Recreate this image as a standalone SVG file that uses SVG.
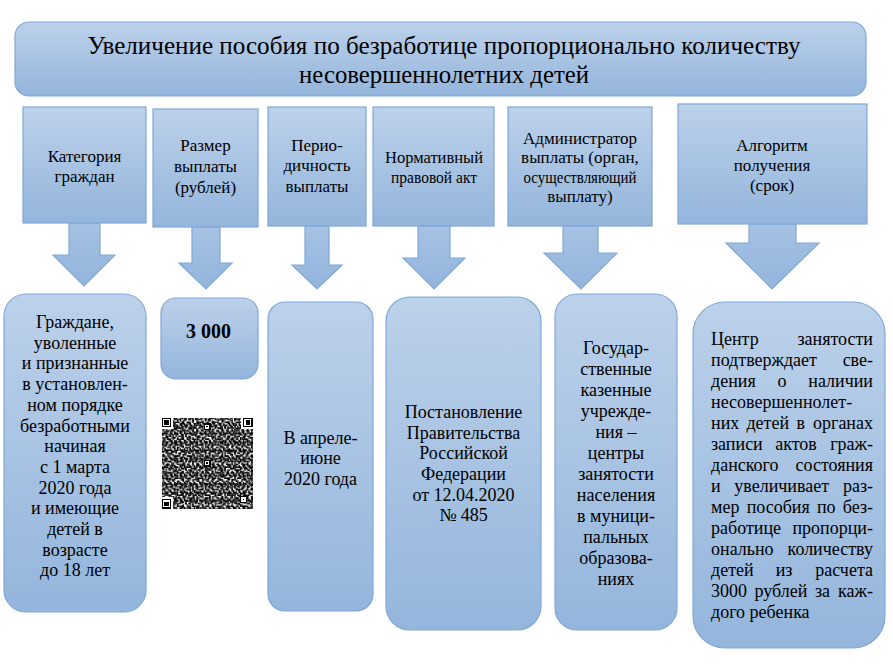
<svg xmlns="http://www.w3.org/2000/svg" xmlns:xlink="http://www.w3.org/1999/xlink" width="893" height="665" viewBox="0 0 893 665" font-family="'Liberation Serif', 'Times New Roman', serif">
<style>
.box{fill:url(#g);stroke:#80a7d6;stroke-width:1.2}
.arr{fill:url(#ga);stroke:#80a7d6;stroke-width:1.2}
text{font-family:"Liberation Serif","Times New Roman",serif;fill:#000}
.ht{font-size:25px;text-anchor:middle}
.t{font-size:17px;text-anchor:middle}
.b{font-size:18px;text-anchor:middle}
.j{font-size:18px}
.e{text-anchor:end}
.m{text-anchor:middle}
.qr{shape-rendering:crispEdges}
</style>
<defs>
<linearGradient id="g" x1="0" y1="0" x2="0" y2="1">
<stop offset="0" stop-color="#bcd1ea"/>
<stop offset="1" stop-color="#94b5dc"/>
</linearGradient>
<linearGradient id="ga" x1="0" y1="0" x2="0" y2="1">
<stop offset="0" stop-color="#a6c2e4"/>
<stop offset="1" stop-color="#93b4dc"/>
</linearGradient>
<pattern id="qa" patternUnits="userSpaceOnUse" x="161.5" y="417.5" width="9.8" height="8.4">
<rect x="0" y="0" width="2.8" height="1.4"/>
<rect x="4.2" y="0" width="1.4" height="2.8"/>
<rect x="7" y="1.4" width="2.8" height="1.4"/>
<rect x="1.4" y="2.8" width="1.4" height="2.8"/>
<rect x="5.6" y="4.2" width="2.8" height="1.4"/>
<rect x="0" y="7" width="1.4" height="1.4"/>
<rect x="2.8" y="5.6" width="1.4" height="2.8"/>
<rect x="8.4" y="5.6" width="1.4" height="2.8"/>
<rect x="4.2" y="7" width="2.8" height="1.4"/>
</pattern>
<pattern id="qb" patternUnits="userSpaceOnUse" x="161.5" y="417.5" width="12.6" height="11.2">
<rect x="1.4" y="0" width="1.4" height="1.4"/>
<rect x="5.6" y="1.4" width="1.4" height="2.8"/>
<rect x="9.8" y="0" width="1.4" height="4.2"/>
<rect x="0" y="4.2" width="4.2" height="1.4"/>
<rect x="7" y="5.6" width="2.8" height="1.4"/>
<rect x="2.8" y="8.4" width="1.4" height="2.8"/>
<rect x="11.2" y="7" width="1.4" height="1.4"/>
<rect x="5.6" y="9.8" width="4.2" height="1.4"/>
<rect x="0" y="8.4" width="1.4" height="1.4"/>
</pattern>
<pattern id="qc" patternUnits="userSpaceOnUse" x="161.5" y="417.5" width="15.4" height="14">
<rect x="2.8" y="0" width="2.8" height="1.4"/>
<rect x="0" y="1.4" width="1.4" height="2.8"/>
<rect x="8.4" y="1.4" width="1.4" height="1.4"/>
<rect x="12.6" y="0" width="1.4" height="2.8"/>
<rect x="4.2" y="4.2" width="2.8" height="2.8"/>
<rect x="9.8" y="5.6" width="4.2" height="1.4"/>
<rect x="1.4" y="8.4" width="1.4" height="2.8"/>
<rect x="7" y="8.4" width="2.8" height="1.4"/>
<rect x="12.6" y="9.8" width="2.8" height="2.8"/>
<rect x="4.2" y="11.2" width="1.4" height="2.8"/>
<rect x="8.4" y="12.6" width="2.8" height="1.4"/>
<rect x="0" y="12.6" width="1.4" height="1.4"/>
</pattern>
<g id="finder">
<rect x="-1.4" y="-1.4" width="12.6" height="12.6" fill="#fff"/>
<rect x="0" y="0" width="9.8" height="9.8" fill="#000"/>
<rect x="1.4" y="1.4" width="7" height="7" fill="#fff"/>
<rect x="2.8" y="2.8" width="4.2" height="4.2" fill="#000"/>
</g>
<g id="align">
<rect x="0" y="0" width="7" height="7" fill="#000"/>
<rect x="1.4" y="1.4" width="4.2" height="4.2" fill="#fff"/>
<rect x="2.8" y="2.8" width="1.4" height="1.4" fill="#000"/>
</g>
</defs>
<rect width="893" height="665" fill="#fff"/>

<g id="connectors">
<polygon class="arr" points="69,223 100,223 100,255 115,255 84,286 53,255 69,255"/>
<polygon class="arr" points="192,227 220,227 220,263 232,263 206,289 179,263 192,263"/>
<polygon class="arr" points="305,226 329,226 329,265 342,265 317,289 292,265 305,265"/>
<polygon class="arr" points="418,226 450,226 450,258 465,258 434,289 403,258 418,258"/>
<polygon class="arr" points="563,226 598,226 598,253 617,253 581,289 544,253 563,253"/>
<polygon class="arr" points="749,224 796,224 796,243 819,243 772,289 726,243 749,243"/>
</g>

<g id="title">
<rect class="box" x="15" y="22" width="851" height="74" rx="14"/>
<text class="ht" x="444" y="54" textLength="713" lengthAdjust="spacingAndGlyphs">Увеличение пособия по безработице пропорционально количеству</text>
<text class="ht" x="444" y="83" textLength="290" lengthAdjust="spacingAndGlyphs">несовершеннолетних детей</text>
</g>

<g id="cat">
<rect class="box" x="23" y="107" width="123" height="116"/>
<text class="t" x="84.5" y="162">Категория</text>
<text class="t" x="84.5" y="182">граждан</text>
</g>
<g id="size">
<rect class="box" x="153" y="109" width="105" height="118"/>
<text class="t" x="205.5" y="151">Размер</text>
<text class="t" x="205.5" y="172">выплаты</text>
<text class="t" x="205.5" y="193">(рублей)</text>
</g>
<g id="period">
<rect class="box" x="268" y="107" width="98" height="119"/>
<text class="t" x="317" y="151">Перио-</text>
<text class="t" x="317" y="171">дичность</text>
<text class="t" x="317" y="192">выплаты</text>
</g>
<g id="norm">
<rect class="box" x="373" y="107" width="121" height="119"/>
<text class="t" x="434" y="163" textLength="98" lengthAdjust="spacingAndGlyphs">Нормативный</text>
<text class="t" x="434" y="183" textLength="86" lengthAdjust="spacingAndGlyphs">правовой акт</text>
</g>
<g id="admin">
<rect class="box" x="508" y="107" width="144" height="119"/>
<text class="t" x="580" y="144">Администратор</text>
<text class="t" x="580" y="163">выплаты (орган,</text>
<text class="t" x="580" y="183" textLength="113" lengthAdjust="spacingAndGlyphs">осуществляющий</text>
<text class="t" x="580" y="202">выплату)</text>
</g>
<g id="algo">
<rect class="box" x="678" y="104" width="189" height="120"/>
<text class="t" x="772" y="151">Алгоритм</text>
<text class="t" x="772" y="171">получения</text>
<text class="t" x="772" y="191">(срок)</text>
</g>

<g id="citizens">
<rect class="box" x="4" y="294" width="142" height="318" rx="22"/>
<text class="b" x="75" y="328">Граждане,</text>
<text class="b" x="75" y="348.7">уволенные</text>
<text class="b" x="75" y="369.4">и признанные</text>
<text class="b" x="75" y="390.1">в установлен-</text>
<text class="b" x="75" y="410.8">ном порядке</text>
<text class="b" x="75" y="431.5">безработными</text>
<text class="b" x="75" y="452.2">начиная</text>
<text class="b" x="75" y="472.9">с 1 марта</text>
<text class="b" x="75" y="493.6">2020 года</text>
<text class="b" x="75" y="514.3">и имеющие</text>
<text class="b" x="75" y="535">детей в</text>
<text class="b" x="75" y="555.7">возрасте</text>
<text class="b" x="75" y="576.4">до 18 лет</text>
</g>
<g id="amount">
<rect class="box" x="161" y="298" width="97" height="81" rx="15"/>
<text x="208.5" y="338" style="font-size:20px;font-weight:bold;text-anchor:middle">3 000</text>
</g>
<g id="qrcode" class="qr">
<rect x="161.5" y="417.5" width="91" height="91" fill="url(#qa)"/>
<rect x="161.5" y="417.5" width="91" height="91" fill="url(#qb)"/>
<rect x="161.5" y="417.5" width="91" height="91" fill="url(#qc)"/>
<use xlink:href="#finder" x="161.5" y="417.5"/>
<use xlink:href="#finder" x="242.7" y="417.5"/>
<use xlink:href="#finder" x="161.5" y="498.7"/>
<use xlink:href="#align" x="203.5" y="423.1"/>
<use xlink:href="#align" x="203.5" y="459.5"/>
<use xlink:href="#align" x="239.9" y="495.9"/>
</g>
<g id="when">
<rect class="box" x="268" y="302" width="105" height="309" rx="17"/>
<text class="b" x="320.5" y="444">В апреле-</text>
<text class="b" x="320.5" y="464">июне</text>
<text class="b" x="320.5" y="485">2020 года</text>
</g>
<g id="decree">
<rect class="box" x="386" y="297" width="155" height="333" rx="24"/>
<text class="b" x="463.5" y="418">Постановление</text>
<text class="b" x="463.5" y="439">Правительства</text>
<text class="b" x="463.5" y="459">Российской</text>
<text class="b" x="463.5" y="480">Федерации</text>
<text class="b" x="463.5" y="501">от 12.04.2020</text>
<text class="b" x="463.5" y="521">№ 485</text>
</g>
<g id="institutions">
<rect class="box" x="555" y="294" width="122" height="336" rx="22"/>
<text class="b" x="616" y="354">Государ-</text>
<text class="b" x="616" y="375">ственные</text>
<text class="b" x="616" y="396">казенные</text>
<text class="b" x="616" y="417">учрежде-</text>
<text class="b" x="616" y="438">ния –</text>
<text class="b" x="616" y="459">центры</text>
<text class="b" x="616" y="480">занятости</text>
<text class="b" x="616" y="501">населения</text>
<text class="b" x="616" y="522">в муници-</text>
<text class="b" x="616" y="543">пальных</text>
<text class="b" x="616" y="564">образова-</text>
<text class="b" x="616" y="585">ниях</text>
</g>
<g id="procedure">
<rect class="box" x="693" y="302" width="192" height="346" rx="32"/>
<text class="j" x="711" y="345">Центр</text><text class="j e" x="873" y="345">занятости</text>
<text class="j" x="711" y="366">подтверждает</text><text class="j e" x="873" y="366">све-</text>
<text class="j" x="711" y="387">дения</text><text class="j m" x="782" y="387">о</text><text class="j e" x="873" y="387">наличии</text>
<text class="j" x="711" y="408">несовершеннолет-</text>
<text class="j" x="711" y="429">них</text><text class="j m" x="767.7" y="429">детей</text><text class="j m" x="800.7" y="429">в</text><text class="j e" x="873" y="429">органах</text>
<text class="j" x="711" y="450">записи</text><text class="j m" x="796" y="450">актов</text><text class="j e" x="873" y="450">граж-</text>
<text class="j" x="711" y="471">данского</text><text class="j e" x="873" y="471">состояния</text>
<text class="j" x="711" y="492">и</text><text class="j m" x="781.7" y="492">увеличивает</text><text class="j e" x="873" y="492">раз-</text>
<text class="j" x="711" y="513">мер</text><text class="j m" x="778.2" y="513">пособия</text><text class="j m" x="826.2" y="513">по</text><text class="j e" x="873" y="513">без-</text>
<text class="j" x="711" y="534">работице</text><text class="j e" x="873" y="534">пропорци-</text>
<text class="j" x="711" y="555">онально</text><text class="j e" x="873" y="555">количеству</text>
<text class="j" x="711" y="576">детей</text><text class="j m" x="784" y="576">из</text><text class="j e" x="873" y="576">расчета</text>
<text class="j" x="711" y="597">3000</text><text class="j m" x="781" y="597">рублей</text><text class="j m" x="822.5" y="597">за</text><text class="j e" x="873" y="597">каж-</text>
<text class="j" x="711" y="618">дого ребенка</text>
</g>
</svg>
